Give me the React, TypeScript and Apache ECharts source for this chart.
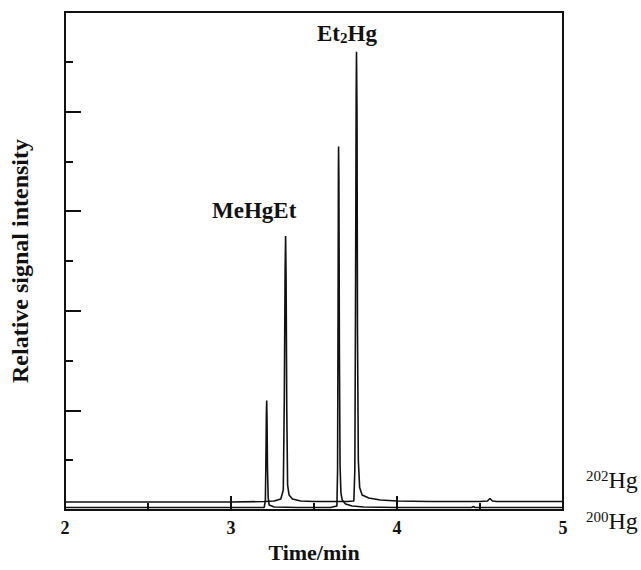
import React, { useEffect, useRef } from "react";
import * as echarts from "echarts";

// Time (min) vs relative signal intensity
const hg202Trace: [number, number][] = [
  [2.0, 0.16], [2.5, 0.16], [3.0, 0.16], [3.2, 0.17], [3.26, 0.18], [3.3, 0.22],
  [3.315, 0.4], [3.321, 2.2], [3.326, 4.8], [3.329, 5.5], [3.332, 4.6], [3.336, 2.0],
  [3.341, 0.5], [3.35, 0.3], [3.37, 0.22], [3.42, 0.18], [3.5, 0.17], [3.6, 0.17],
  [3.7, 0.17], [3.74, 0.18], [3.746, 0.8], [3.75, 4.0], [3.754, 8.3], [3.756, 9.2],
  [3.759, 8.0], [3.762, 3.6], [3.767, 1.0], [3.775, 0.45], [3.79, 0.3], [3.83, 0.24],
  [3.9, 0.2], [4.0, 0.18], [4.2, 0.17], [4.5, 0.17], [4.545, 0.18], [4.56, 0.23],
  [4.575, 0.18], [4.6, 0.17], [5.0, 0.17],
];

const hg200Trace: [number, number][] = [
  [2.0, 0.05], [2.5, 0.05], [3.0, 0.05], [3.2, 0.05], [3.207, 0.2], [3.21, 0.9],
  [3.213, 1.9], [3.215, 2.2], [3.217, 1.8], [3.22, 0.8], [3.224, 0.25], [3.23, 0.1],
  [3.26, 0.06], [3.4, 0.05], [3.6, 0.05], [3.638, 0.08], [3.642, 0.8], [3.645, 4.0],
  [3.647, 6.8], [3.648, 7.3], [3.65, 6.6], [3.653, 3.2], [3.657, 0.9], [3.662, 0.35],
  [3.67, 0.2], [3.69, 0.12], [3.73, 0.08], [3.8, 0.06], [4.0, 0.05], [4.45, 0.05],
  [4.46, 0.07], [4.47, 0.05], [5.0, 0.05],
];

const xTicks = [2, 3, 4, 5];
const peakLabels = ["MeHgEt", "Et2Hg"];
const traceLabels = [
  { iso: "202", el: "Hg" },
  { iso: "200", el: "Hg" },
];

const FONT = "'Liberation Serif', 'DejaVu Serif', serif";

export default function App() {
  const ref = useRef<HTMLDivElement>(null);
  useEffect(() => {
    if (!ref.current) return;
    const chart = echarts.init(ref.current, undefined, { renderer: "svg" });
    chart.setOption({
      animation: false,
      backgroundColor: "#ffffff",
      grid: {
        left: 64,
        top: 12,
        right: 78,
        bottom: 60,
        show: true,
        borderColor: "#111",
        borderWidth: 2,
      },
      xAxis: {
        type: "value",
        min: xTicks[0],
        max: xTicks[xTicks.length - 1],
        interval: 1,
        name: "Time/min",
        nameLocation: "middle",
        nameGap: 31,
        nameTextStyle: { fontFamily: FONT, fontWeight: "bold", fontSize: 22, color: "#111" },
        axisLine: { show: false },
        axisTick: { show: true, inside: true, length: 14, lineStyle: { color: "#111", width: 2 } },
        minorTick: { show: true, splitNumber: 2, length: 7, lineStyle: { color: "#111", width: 2 } },
        splitLine: { show: false },
        axisLabel: {
          margin: 9,
          fontFamily: FONT,
          fontWeight: "bold",
          fontSize: 18,
          color: "#111",
        },
      },
      yAxis: {
        type: "value",
        min: 0,
        max: 10,
        interval: 2,
        name: "Relative signal intensity",
        nameLocation: "middle",
        nameGap: 33,
        nameTextStyle: { fontFamily: FONT, fontWeight: "bold", fontSize: 24, color: "#111" },
        axisLine: { show: false },
        axisTick: { show: true, inside: true, length: 16, lineStyle: { color: "#111", width: 2 } },
        minorTick: { show: true, splitNumber: 2, length: 8, lineStyle: { color: "#111", width: 2 } },
        splitLine: { show: false },
        axisLabel: { show: false },
      },
      series: [
        {
          name: "202Hg",
          type: "line",
          data: hg202Trace,
          showSymbol: false,
          lineStyle: { color: "#111", width: 1.6 },
          z: 3,
        },
        {
          name: "200Hg",
          type: "line",
          data: hg200Trace,
          showSymbol: false,
          lineStyle: { color: "#111", width: 1.6 },
          z: 3,
        },
      ],
      graphic: [
        {
          type: "text",
          left: 212,
          top: 199,
          style: {
            text: peakLabels[0],
            font: `bold 23px ${FONT}`,
            fill: "#111",
          },
        },
        {
          type: "text",
          left: 317,
          top: 22,
          style: {
            text: "{a|Et}{s|2}{a|Hg}",
            rich: {
              a: { font: `bold 23px ${FONT}`, fill: "#111", verticalAlign: "bottom" },
              s: { font: `bold 15px ${FONT}`, fill: "#111", verticalAlign: "bottom" },
            },
          },
        },
        {
          type: "text",
          left: 586,
          top: 468,
          style: {
            text: `{s|${traceLabels[0].iso}}{a|${traceLabels[0].el}}`,
            rich: {
              a: { font: `24px ${FONT}`, fill: "#111", verticalAlign: "bottom" },
              s: { font: `15px ${FONT}`, fill: "#111", verticalAlign: "top" },
            },
          },
        },
        {
          type: "text",
          left: 586,
          top: 509,
          style: {
            text: `{s|${traceLabels[1].iso}}{a|${traceLabels[1].el}}`,
            rich: {
              a: { font: `24px ${FONT}`, fill: "#111", verticalAlign: "bottom" },
              s: { font: `15px ${FONT}`, fill: "#111", verticalAlign: "top" },
            },
          },
        },
      ],
    });
    return () => chart.dispose();
  }, []);
  return <div ref={ref} style={{ width: 641, height: 570, position: "absolute", left: 0, top: 0 }} />;
}
